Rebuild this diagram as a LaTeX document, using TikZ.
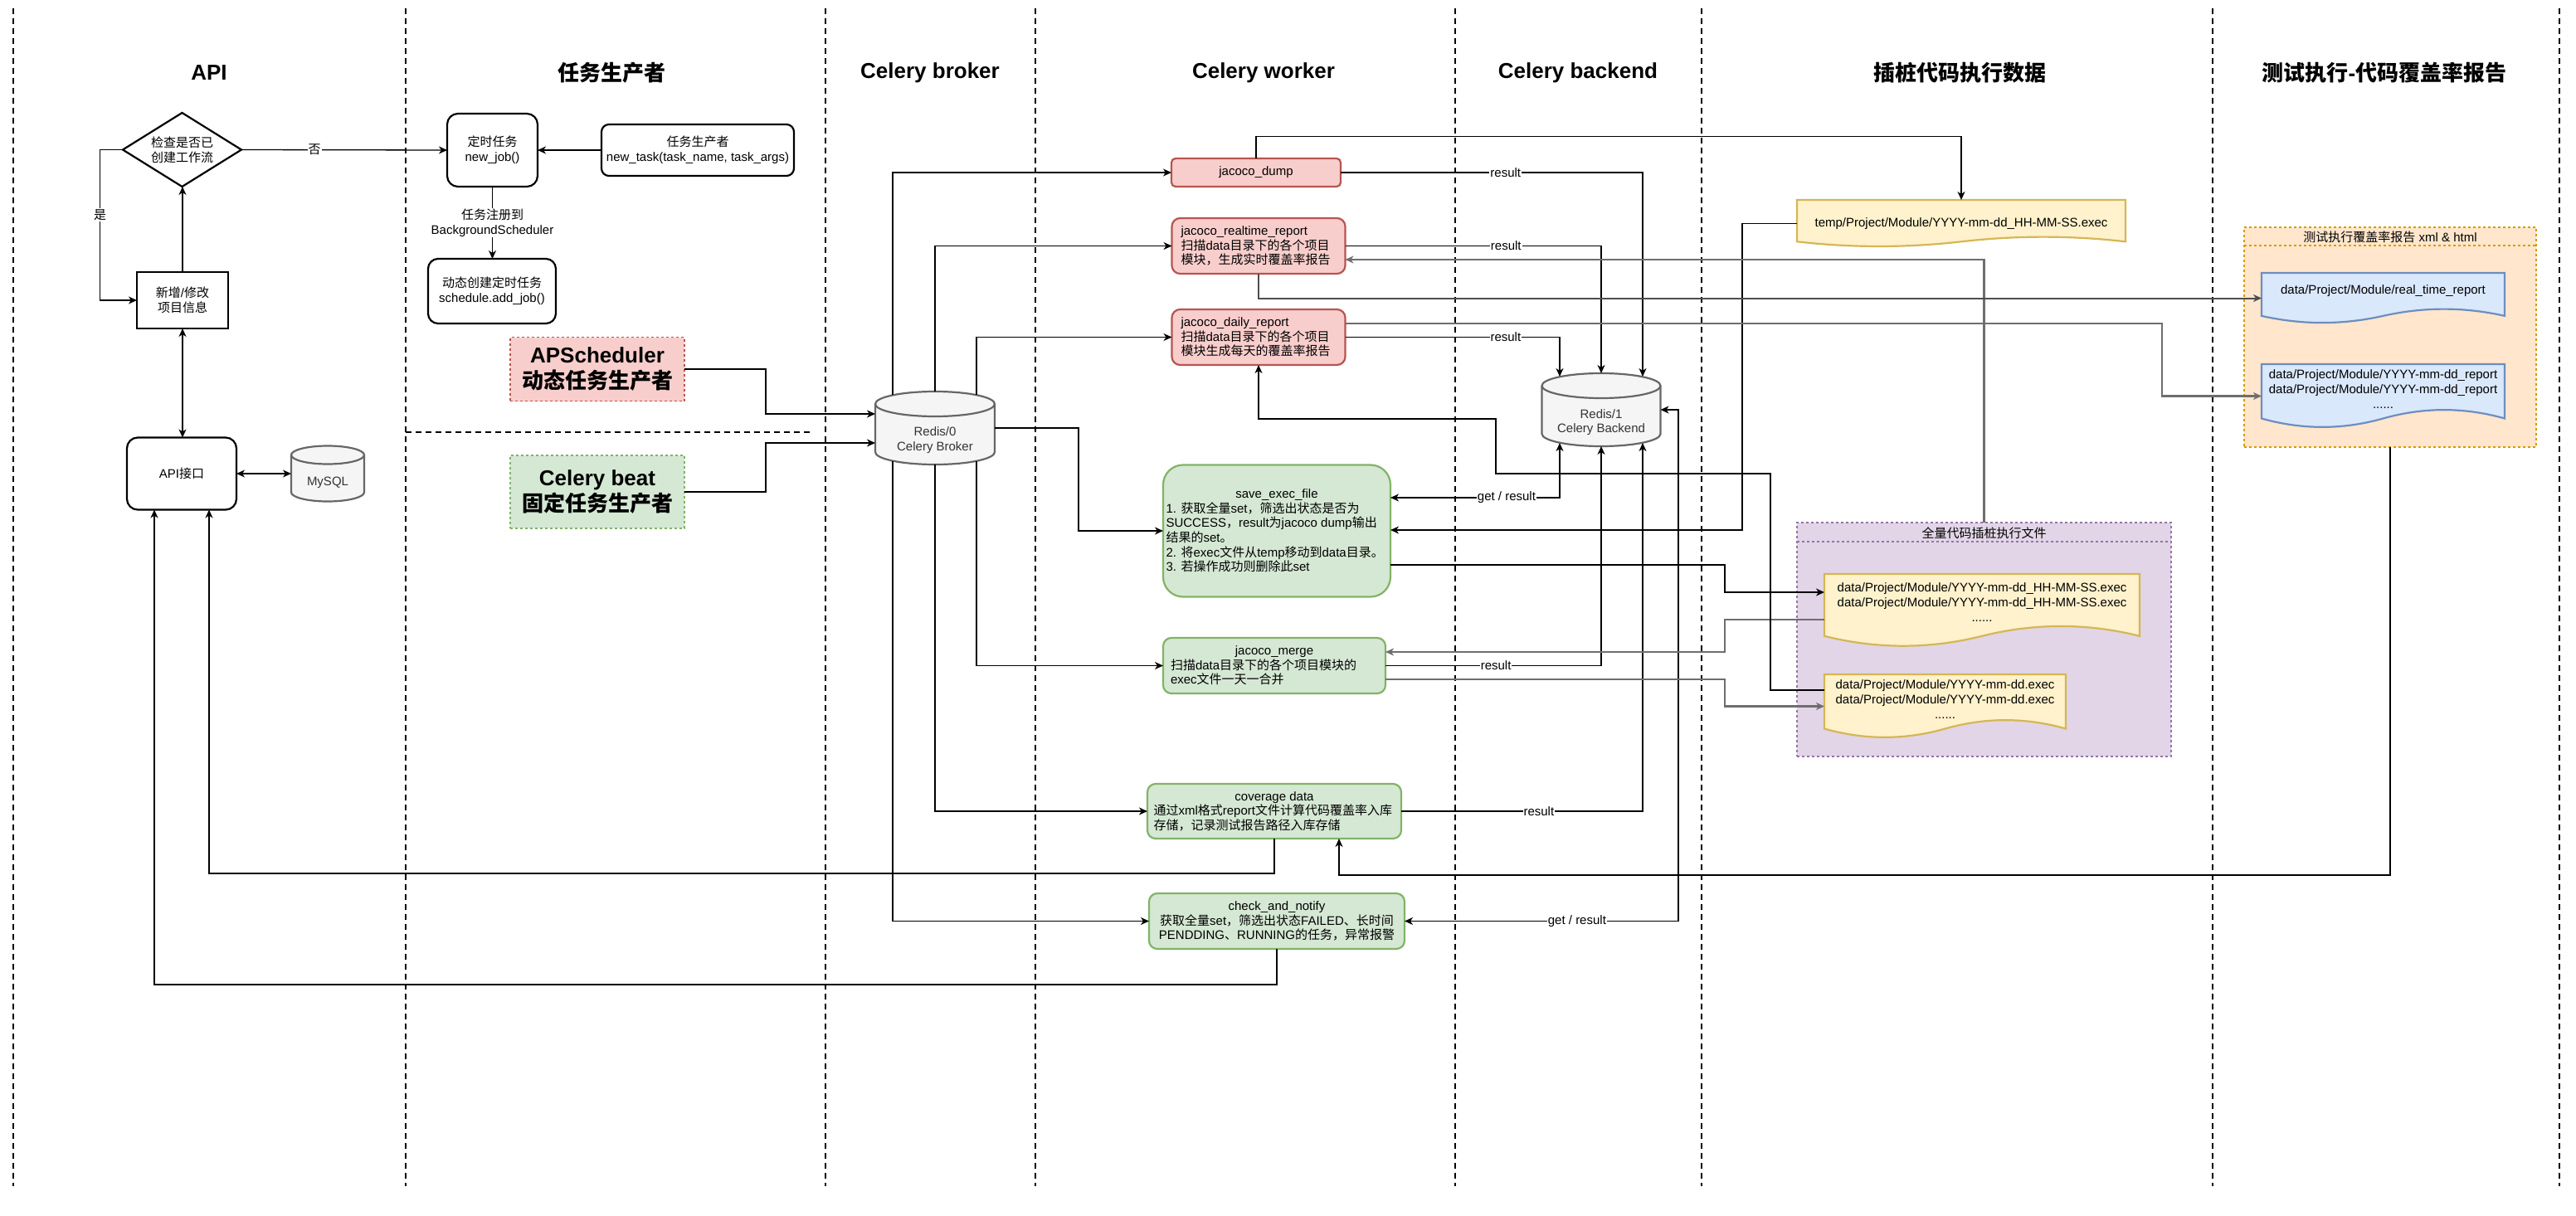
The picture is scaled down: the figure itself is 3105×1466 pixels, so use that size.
\documentclass[tikz,border=0pt]{standalone}
\usepackage{fontspec}
\setmainfont{Liberation Sans}
\newfontfamily\cjkfont{Noto Sans CJK SC}
\usetikzlibrary{arrows.meta,calc,shapes.geometric}
\setlength\parindent{0pt}
\XeTeXinterchartokenstate=1
\newXeTeXintercharclass\cjkclass
\newcount\cjkcnt
\def\setcjkrange#1#2{\cjkcnt=#1\relax\loop\XeTeXcharclass\cjkcnt=\cjkclass\relax\advance\cjkcnt by 1\relax\ifnum\cjkcnt<#2\relax\repeat}
\setcjkrange{"3000}{"3040}
\setcjkrange{"4E00}{"A000}
\setcjkrange{"FF00}{"FFF0}
\XeTeXinterchartoks 0 \cjkclass = {\cjkfont}
\XeTeXinterchartoks 4095 \cjkclass = {\cjkfont}
\XeTeXinterchartoks \cjkclass 0 = {\rmfamily}
\XeTeXinterchartoks \cjkclass 4095 = {\rmfamily}

\definecolor{rfill}{HTML}{F8CECC}\definecolor{rstroke}{HTML}{B85450}
\definecolor{gfill}{HTML}{D5E8D4}\definecolor{gstroke}{HTML}{82B366}
\definecolor{yfill}{HTML}{FFF2CC}\definecolor{ystroke}{HTML}{D6B656}
\definecolor{bfill}{HTML}{DAE8FC}\definecolor{bstroke}{HTML}{6C8EBF}
\definecolor{pfill}{HTML}{E1D5E7}\definecolor{pstroke}{HTML}{9673A6}
\definecolor{ofill}{HTML}{FFE6CC}\definecolor{ostroke}{HTML}{D79B00}
\definecolor{cfill}{HTML}{F5F5F5}\definecolor{cstroke}{HTML}{666666}\definecolor{ctext}{HTML}{333333}
\definecolor{gline}{HTML}{6E6E6E}\definecolor{dline}{HTML}{4D4D4D}

% cylinder: cx cy w h ry
\newcommand\cylshape[5]{%
 \pgfmathsetmacro\zqL{#1-#3/2}\pgfmathsetmacro\zqR{#1+#3/2}%
 \pgfmathsetmacro\zqT{#2-#4/2}\pgfmathsetmacro\zqB{#2+#4/2}%
 \pgfmathsetmacro\zqA{\zqT+#5}\pgfmathsetmacro\zqC{\zqB-#5}%
 \pgfmathsetmacro\zqkx{0.5523*#3/2}\pgfmathsetmacro\zqky{0.5523*#5}%
 \pgfmathsetmacro\zqAm{\zqA-\zqky}\pgfmathsetmacro\zqAp{\zqA+\zqky}\pgfmathsetmacro\zqCp{\zqC+\zqky}%
 \pgfmathsetmacro\zqD{\zqT+2*#5}%
 \path[cylst] (\zqL,\zqA) .. controls (\zqL,\zqAm) and (#1-\zqkx,\zqT) .. (#1,\zqT) .. controls (#1+\zqkx,\zqT) and (\zqR,\zqAm) .. (\zqR,\zqA) -- (\zqR,\zqC) .. controls (\zqR,\zqCp) and (#1+\zqkx,\zqB) .. (#1,\zqB) .. controls (#1-\zqkx,\zqB) and (\zqL,\zqCp) .. (\zqL,\zqC) -- cycle;
 \path[cylst,fill=none] (\zqL,\zqA) .. controls (\zqL,\zqAp) and (#1-\zqkx,\zqD) .. (#1,\zqD) .. controls (#1+\zqkx,\zqD) and (\zqR,\zqAp) .. (\zqR,\zqA);
}
% document: style x1 y1 x2 y2 dy
\newcommand\docshape[6]{%
 \pgfmathsetmacro\zqw{#4-#2}\pgfmathsetmacro\zqm{(#2+#4)/2}%
 \pgfmathsetmacro\zqc{#5-#6/2}\pgfmathsetmacro\zqu{#5-1.1*#6}%
 \pgfmathsetmacro\zqd{#5+0.1*#6}\pgfmathsetmacro\zqs{\zqw/6}%
 \path[#1] (#2,#3) -- (#4,#3) -- (#4,\zqc) .. controls (#4-\zqs,\zqu) and (\zqm+\zqs,\zqu) .. (\zqm,\zqc) .. controls (\zqm-\zqs,\zqd) and (#2+\zqs,\zqd) .. (#2,\zqc) -- cycle;
}

\begin{document}
\begin{tikzpicture}[x=1pt,y=-1pt,
  >={Stealth[length=10pt,width=9pt,inset=3pt]},
  every node/.style={font=\fontsize{15}{17.6}\selectfont, inner sep=0pt, outer sep=0pt},
  lane/.style={line width=2pt, dash pattern=on 7pt off 5pt},
  bk/.style={line width=1.3pt, draw=black},
  gy/.style={line width=2.5pt, draw=gline},
  dk/.style={line width=2pt, draw=dline},
  lbl/.style={fill=white, inner sep=1pt},
  ttl/.style={font=\fontsize{26}{31}\selectfont\bfseries},
  wbox/.style={draw=black, line width=2.2pt, fill=white, align=center},
  rbox/.style={draw=rstroke, fill=rfill, line width=2.2pt},
  gbox/.style={draw=gstroke, fill=gfill, line width=2.2pt},
  cylst/.style={fill=cfill, draw=cstroke, line width=2.2pt},
  ctxt/.style={text=ctext, align=center},
  ydoc/.style={fill=yfill, draw=ystroke, line width=2.2pt},
  bdoc/.style={fill=bfill, draw=bstroke, line width=2.2pt},
  cont/.style={line width=1.3pt, dash pattern=on 3pt off 3pt},
  bigtxt/.style={align=center, font=\fontsize{26}{31}\selectfont\bfseries}
]
\fill[white] (0,0) rectangle (3105,1466);
\useasboundingbox (0,0) rectangle (3105,1466);

% lanes
\foreach \lx in {16,489,995,1248,1754,2051,2667,3085}{\draw[lane] (\lx,10) -- (\lx,1430);}
\draw[lane] (489,521) -- (976,521);

% titles
\node[ttl] (tA) at (252,88) {API};
\node[ttl] (tB) at (737,88) {任务生产者};
\node[ttl] (tC) at (1121,88) {Celery broker};
\node[ttl] (tD) at (1523,88) {Celery worker};
\node[ttl] (tE) at (1902,88) {Celery backend};
\node[ttl] (tF) at (2362,88) {插桩代码执行数据};
\node[ttl] (tG) at (2874,88) {测试执行-代码覆盖率报告};

% containers
\node[cont, fill=pfill, draw=pstroke, minimum width=451pt, minimum height=282pt] (pc) at (2391.5,771) {};
\draw[cont, draw=pstroke] ($(pc.north west)+(0,23)$) -- ($(pc.north east)+(0,23)$);
\node (pct) at (2391.5,643) {全量代码插桩执行文件};
\node[cont, fill=ofill, draw=ostroke, minimum width=352pt, minimum height=265pt] (oc) at (2881,406.5) {};
\draw[cont, draw=ostroke] ($(oc.north west)+(0,22)$) -- ($(oc.north east)+(0,22)$);
\node (oct) at (2881,286) {测试执行覆盖率报告 xml \& html};

% documents
\docshape{ydoc}{2166}{241}{2562}{297.6}{12.6}
\node[minimum width=396pt, minimum height=56.6pt] (tmp) at (2364,269.3) {temp/Project/Module/YYYY-mm-dd\_HH-MM-SS.exec};
\docshape{ydoc}{2199}{692}{2579}{780}{26.4}
\node[minimum width=380pt, minimum height=88pt, label={[align=center,yshift=10pt]center:{data/Project/Module/YYYY-mm-dd\_HH-MM-SS.exec\\data/Project/Module/YYYY-mm-dd\_HH-MM-SS.exec\\......}}] (d1) at (2389,736) {};
\docshape{ydoc}{2199}{813}{2490}{890}{23}
\node[minimum width=291pt, minimum height=77pt, label={[align=center,yshift=8.5pt]center:{data/Project/Module/YYYY-mm-dd.exec\\data/Project/Module/YYYY-mm-dd.exec\\......}}] (d2) at (2344.5,851.5) {};
\docshape{bdoc}{2726}{329}{3019}{390}{18.3}
\node[minimum width=293pt, minimum height=61pt, label={[align=center,yshift=8.5pt]center:{data/Project/Module/real\_time\_report}}] (b1) at (2872.5,359.5) {};
\docshape{bdoc}{2726}{439}{3019}{516}{23}
\node[minimum width=293pt, minimum height=77pt, label={[align=center,yshift=8.5pt]center:{data/Project/Module/YYYY-mm-dd\_report\\data/Project/Module/YYYY-mm-dd\_report\\......}}] (b2) at (2872.5,477.5) {};

% cylinders
\cylshape{395}{571}{88}{67}{11}
\node[minimum width=88pt, minimum height=67pt, label={[ctxt,yshift=-11pt]center:MySQL}] (mysql) at (395,571) {};
\cylshape{1127}{516}{144}{88}{15}
\node[minimum width=144pt, minimum height=88pt, label={[ctxt,yshift=-14.5pt]center:{Redis/0\\Celery Broker}}] (r0) at (1127,516) {};
\cylshape{1930}{494}{143}{88}{15}
\node[minimum width=143pt, minimum height=88pt, label={[ctxt,yshift=-15pt]center:{Redis/1\\Celery Backend}}] (r1) at (1930,494) {};

% API lane
\node[diamond, aspect=1.6, draw=black, line width=2.2pt, fill=white, minimum width=143pt, minimum height=89pt, align=center] (chk) at (219.5,180.5) {检查是否已\\创建工作流};
\node[wbox, minimum width=110pt, minimum height=68pt] (add) at (220,362) {新增/修改\\项目信息};
\node[wbox, rounded corners=13pt, minimum width=132pt, minimum height=87pt] (api) at (219,571) {API接口};

% producer lane
\node[wbox, rounded corners=13pt, minimum width=109pt, minimum height=88pt] (job) at (593.5,181) {定时任务\\new\_job()};
\node[wbox, rounded corners=9pt, minimum width=232pt, minimum height=62pt] (ntask) at (841,181) {任务生产者\\new\_task(task\_name, task\_args)};
\node[wbox, rounded corners=12pt, minimum width=154pt, minimum height=78pt] (addjob) at (593,351) {动态创建定时任务\\schedule.add\_job()};
\node[cont, draw=rstroke, fill=rfill, minimum width=210pt, minimum height=77pt, bigtxt] (aps) at (720,445) {APScheduler\\动态任务生产者};
\node[cont, draw=gstroke, fill=gfill, minimum width=210pt, minimum height=88pt, bigtxt] (beat) at (720,593) {Celery beat\\固定任务生产者};

% worker lane
\node[rbox, rounded corners=5pt, minimum width=204pt, minimum height=34pt, align=center] (dump) at (1514,208) {jacoco\_dump};
\node[rbox, rounded corners=10pt, minimum width=209pt, minimum height=67pt, text width=187pt, inner xsep=11pt, align=flush left] (rt) at (1517,296.5) {jacoco\_realtime\_report\\扫描data目录下的各个项目\\模块，生成实时覆盖率报告};
\node[rbox, rounded corners=10pt, minimum width=209pt, minimum height=67pt, text width=187pt, inner xsep=11pt, align=flush left] (daily) at (1517,406.5) {jacoco\_daily\_report\\扫描data目录下的各个项目\\模块生成每天的覆盖率报告};
\node[gbox, rounded corners=24pt, minimum width=274pt, minimum height=159pt, text width=267pt, inner xsep=3.5pt, align=flush left] (save) at (1539,640) {\hspace*{\fill}save\_exec\_file\hspace*{\fill}\null\\1. 获取全量set，筛选出状态是否为\\SUCCESS，result为jacoco dump输出\\结果的set。\\2. 将exec文件从temp移动到data目录。\\3. 若操作成功则删除此set};
\node[gbox, rounded corners=10pt, minimum width=268pt, minimum height=67pt, text width=250pt, inner xsep=9pt, align=flush left] (merge) at (1536,802.5) {\hspace*{\fill}jacoco\_merge\hspace*{\fill}\null\\扫描data目录下的各个项目模块的\\exec文件一天一合并};
\node[gbox, rounded corners=10pt, minimum width=306pt, minimum height=66pt, text width=291pt, inner xsep=7.5pt, align=flush left] (cov) at (1536,978) {\hspace*{\fill}coverage data\hspace*{\fill}\null\\通过xml格式report文件计算代码覆盖率入库\\存储，记录测试报告路径入库存储};
\node[gbox, rounded corners=10pt, minimum width=308pt, minimum height=67pt, align=center] (chkn) at (1539,1110.5) {check\_and\_notify\\获取全量set，筛选出状态FAILED、长时间\\PENDDING、RUNNING的任务，异常报警};

% ---------- connectors ----------
% API lane
\draw[bk,->] (add.north) -- (add.north |- chk.south);
\draw[bk,->] (chk.west) -- ++(-27.5,0) |- (add.west) node[lbl,pos=0.216]{是};
\draw[bk,->] (chk.east) -- (job.west) node[lbl,pos=0.355]{否};
\draw[bk,<->] (add.south) -- (add.south |- api.north);
\draw[bk,<->] (api.east) -- (mysql.west);
% producer lane
\draw[bk,->] (ntask.west) -- (job.east);
\draw[bk,->] (job.south) -- (job.south |- addjob.north) node[lbl,midway,align=center]{任务注册到\\BackgroundScheduler};
\draw[bk,->] (aps.east) -| (923,472) |- ($(r0.west)+(0,-17)$);
\draw[bk,->] (beat.east) -| (923,560) |- ($(r0.west)+(0,18)$);
% broker -> worker
\draw[bk,->] ($(r0.north)+(-51,4)$) |- (dump.west);
\draw[bk,->] (r0.north) |- (rt.west);
\draw[bk,->] ($(r0.north)+(50,4)$) |- (daily.west);
\draw[bk,->] (r0.east) -| (1300,580) |- (save.west);
\draw[bk,->] ($(r0.south)+(50,-4)$) |- (merge.west);
\draw[bk,->] (r0.south) |- (cov.west);
\draw[bk,->] ($(r0.south)+(-51,-4)$) |- (chkn.west);
% worker <-> backend
\draw[bk,->] (dump.east) -| ($(r1.north)+(50,4)$) node[lbl,pos=0.273]{result};
\draw[bk,->] (rt.east) -| (r1.north) node[lbl,pos=0.314]{result};
\draw[bk,->] (daily.east) -| ($(r1.north)+(-50,4)$) node[lbl,pos=0.374]{result};
\draw[bk,<->] ($(r1.south)+(-50,-4)$) |- ($(save.east)+(0,-40)$) node[lbl,pos=0.657]{get / result};
\draw[bk,->] (merge.east) -| (r1.south) node[lbl,pos=0.256]{result};
\draw[bk,->] (cov.east) -| ($(r1.south)+(50,-4)$) node[lbl,pos=0.285]{result};
\draw[bk,<->] (r1.east) -| (2023,800) |- (chkn.east) node[lbl,pos=0.685]{get / result};
% worker <-> data files
\draw[bk,->] (dump.north) -- ++(0,-26.5) -| (tmp.north);
\draw[bk,->] (tmp.west) -| (2100,450) |- ($(save.east)+(0,-1)$);
\draw[bk,->] ($(save.east)+(0,41)$) -| (2079,700) |- ($(d1.west)+(0,-22)$);
\draw[gy,->] ($(d1.west)+(0,11)$) -| (2079,770) |- ($(merge.east)+(0,-16.5)$);
\draw[gy,->] ($(merge.east)+(0,16.5)$) -| (2079,835) |- (d2.west);
\draw[bk,->] ($(d2.west)+(0,-19.5)$) -| (2134,571) -| (1803,505) -| (daily.south);
\draw[gy,->] (pc.north) |- ($(rt.east)+(0,16.5)$);
% reports
\draw[dk,->] (rt.south) |- (b1.west);
\draw[gy,->] ($(daily.east)+(0,-16.5)$) -| (2606,440) |- (b2.west);
\draw[bk,->] (oc.south) |- ($(cov.south)+(78,44)$) -- ($(cov.south)+(78,0)$);
% back to API
\draw[bk,->] (cov.south) -- ++(0,42) -| ($(api.south)+(33,0)$);
\draw[bk,->] (chkn.south) -- ++(0,43) -| ($(api.south)+(-33,0)$);
\end{tikzpicture}
\end{document}
